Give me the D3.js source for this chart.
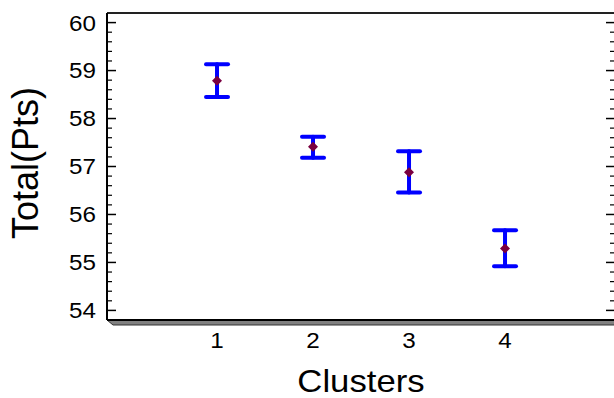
<!DOCTYPE html>
<html>
<head>
<meta charset="utf-8">
<script src="https://cdn.jsdelivr.net/npm/d3@7"></script>
<style>
body { margin: 0; background: #fff; }
svg { display: block; font-family: "Liberation Sans", Arial, sans-serif; }
</style>
</head>
<body>
<div id="plot"></div>
<script>

var clusters = [1, 2, 3, 4];
var means = [58.79, 57.41, 56.88, 55.29];
var upper = [59.13, 57.62, 57.32, 55.67];
var lower = [58.45, 57.18, 56.46, 54.92];
var yTicks = [54, 55, 56, 57, 58, 59, 60];

var width = 614, height = 398;
var plotLeft = 107, plotRight = 616, plotTop = 13, plotBottom = 320;

var svg = d3.select("#plot")
	.append("svg")
	.attr("width", width)
	.attr("height", height);

var x = d3.scaleLinear().domain([-0.146, 5.156]).range([plotLeft, plotRight]);
var y = d3.scaleLinear().domain([53.8, 60.2]).range([plotBottom, plotTop]);

// 3d floor under the x axis
svg.append("path")
	.attr("d", "M" + plotLeft + "," + plotBottom + " L" + (plotLeft + 6) + "," + (plotBottom + 5) + " L" + (plotRight + 10) + "," + (plotBottom + 5) + " L" + (plotRight + 10) + "," + plotBottom + " Z")
	.style("fill", "#808080")
	.style("stroke", "#333")
	.style("stroke-width", 1);

// frame
svg.append("line")
	.attr("x1", plotLeft).attr("y1", plotTop).attr("x2", width).attr("y2", plotTop)
	.style("stroke", "#222").style("stroke-width", 2);
svg.append("line")
	.attr("x1", plotLeft).attr("y1", plotBottom).attr("x2", width).attr("y2", plotBottom)
	.style("stroke", "#000").style("stroke-width", 2);

// minor ticks every 0.2
var minor = d3.range(54, 60.01, 0.2).filter(function(v){ return Math.abs(v - Math.round(v)) > 0.01; });

svg.append("line")
	.attr("x1", plotLeft).attr("y1", plotTop).attr("x2", plotLeft).attr("y2", plotBottom)
	.style("stroke", "#000").style("stroke-width", 2);

yTicks.forEach(function(v){
	svg.append("line")
		.attr("x1", plotLeft).attr("x2", plotLeft + 9)
		.attr("y1", y(v)).attr("y2", y(v))
		.style("stroke", "#000").style("stroke-width", 1.5);
	svg.append("text")
		.text(v)
		.attr("transform", "translate(" + (plotLeft - 11) + "," + y(v) + ") scale(1.1,1)")
		.attr("dy", "0.36em")
		.attr("text-anchor", "end")
		.style("font-size", "22px")
		.attr("fill", "#000");
	svg.append("line")
		.attr("x1", plotRight - 10).attr("x2", width)
		.attr("y1", y(v)).attr("y2", y(v))
		.style("stroke", "#000").style("stroke-width", 1.5);
});

minor.forEach(function(v){
	svg.append("line")
		.attr("x1", plotLeft).attr("x2", plotLeft + 5)
		.attr("y1", y(v)).attr("y2", y(v))
		.style("stroke", "#000").style("stroke-width", 1.2);
	svg.append("line")
		.attr("x1", plotRight - 6).attr("x2", width)
		.attr("y1", y(v)).attr("y2", y(v))
		.style("stroke", "#000").style("stroke-width", 1.2);
});

// x tick labels
clusters.forEach(function(c){
	svg.append("text")
		.text(c)
		.attr("transform", "translate(" + x(c) + ",348) scale(1.1,1)")
		.attr("text-anchor", "middle")
		.style("font-size", "22px")
		.attr("fill", "#000");
});

// titles
svg.append("text")
	.text("Clusters")
	.attr("transform", "translate(361,392) scale(1.12,1)")
	.attr("text-anchor", "middle")
	.style("font-size", "31px")
	.attr("fill", "#000");

svg.append("text")
	.text("Total(Pts)")
	.attr("transform", "translate(38,163) rotate(-90)")
	.attr("text-anchor", "middle")
	.style("font-size", "36px")
	.attr("fill", "#000");

// error bars
var cap = 11;
clusters.forEach(function(c, i){
	var cx = x(c);
	var g = svg.append("g")
		.style("stroke", "#0000ff")
		.style("stroke-width", 4)
		.style("stroke-linecap", "round");
	g.append("line")
		.attr("x1", cx).attr("x2", cx)
		.attr("y1", y(upper[i])).attr("y2", y(lower[i]));
	g.append("line")
		.attr("x1", cx - cap).attr("x2", cx + cap)
		.attr("y1", y(upper[i])).attr("y2", y(upper[i]));
	g.append("line")
		.attr("x1", cx - cap).attr("x2", cx + cap)
		.attr("y1", y(lower[i])).attr("y2", y(lower[i]));

	svg.append("path")
		.attr("d", d3.symbol().type(d3.symbolSquare).size(50)())
		.attr("transform", "translate(" + cx + "," + y(means[i]) + ") rotate(45)")
		.style("fill", "#7a0040");
});

</script>
</body>
</html>
